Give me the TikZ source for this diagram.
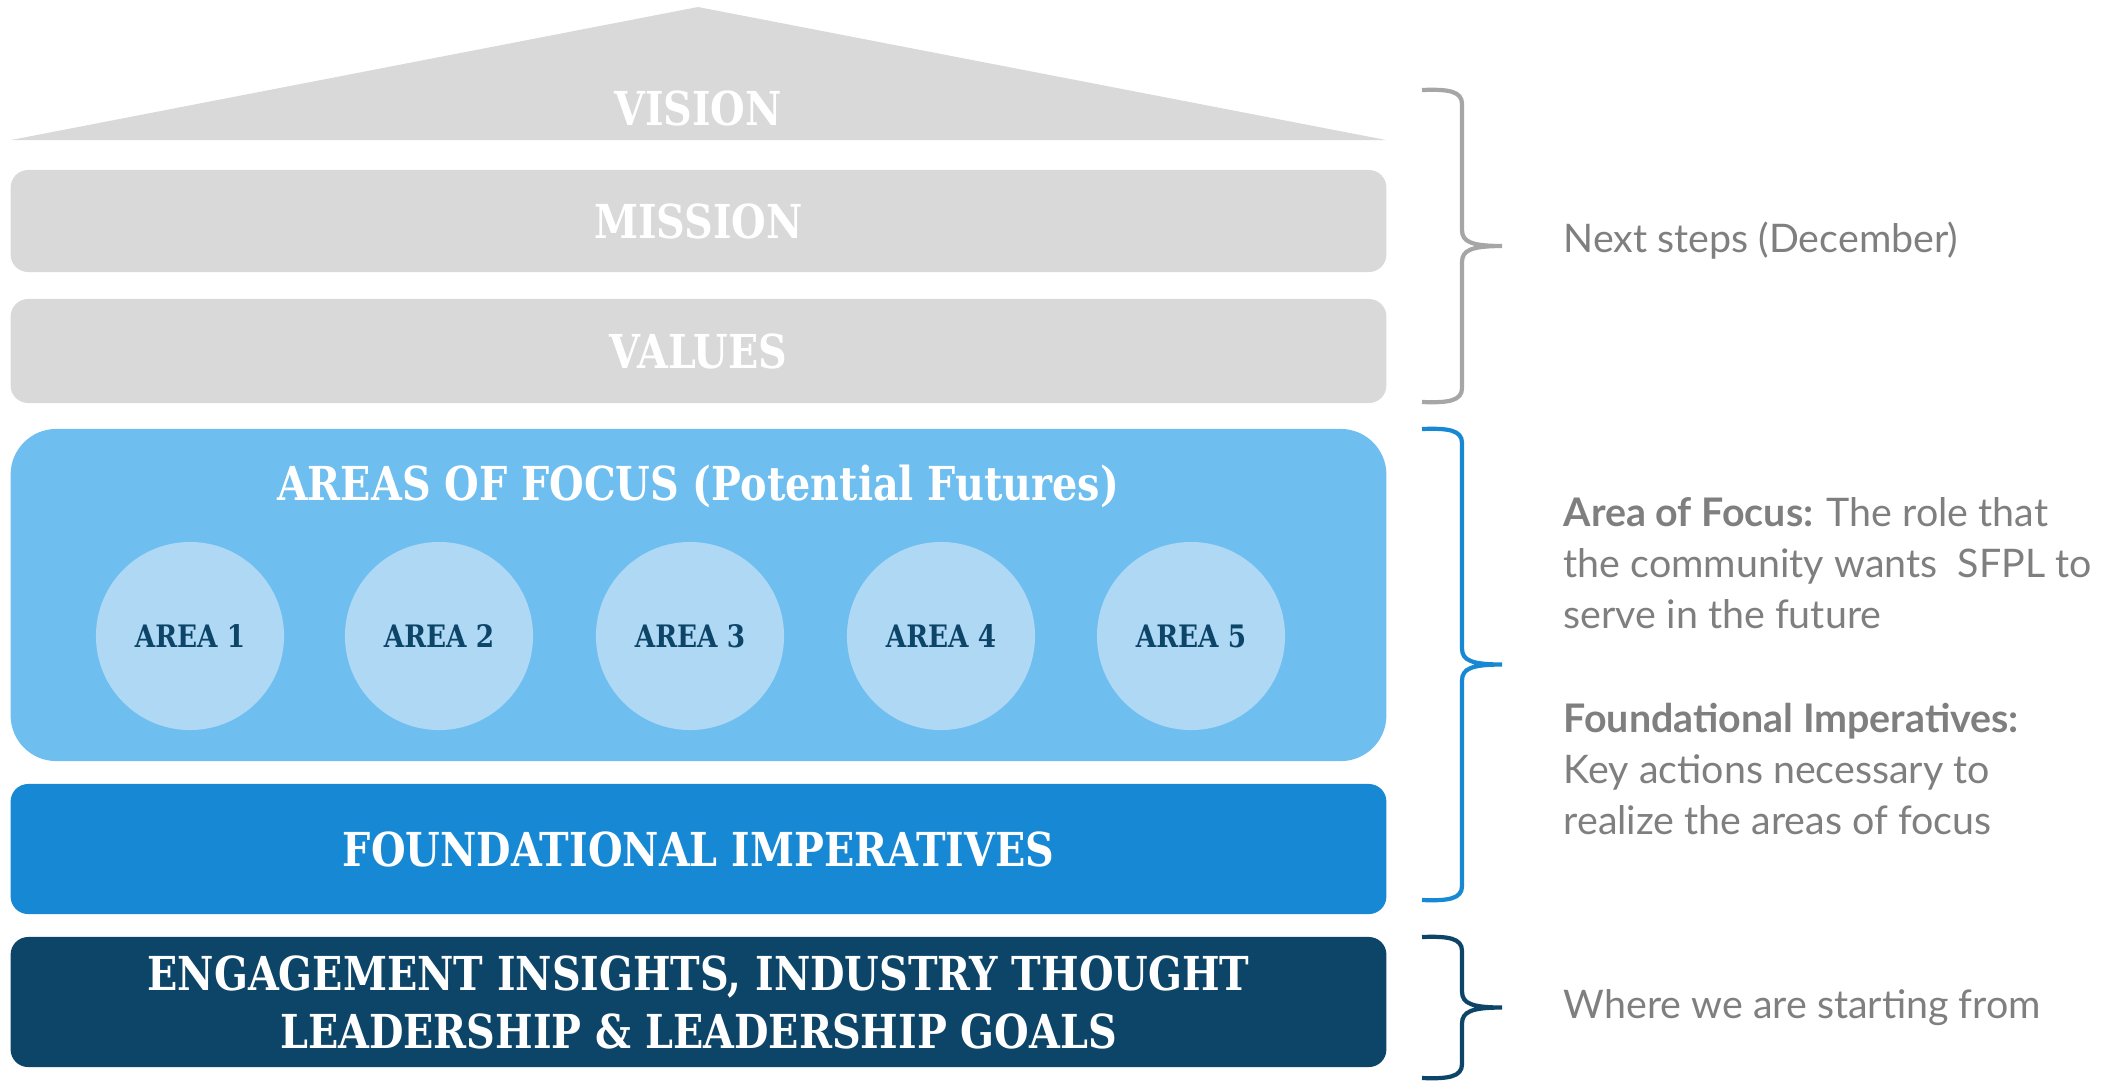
\documentclass[tikz,border=0pt]{standalone}
\usepackage{fontspec}
\setmainfont{Lato}
\newfontfamily\slabfont[FakeStretch=0.85]{DejaVu Serif}
\usetikzlibrary{positioning}
\definecolor{roofgray}{HTML}{D9D9D9}
\definecolor{bracegray}{HTML}{A6A6A6}
\definecolor{notegray}{HTML}{7F7F7F}
\definecolor{focusblue}{HTML}{6FBEF0}
\definecolor{arealight}{HTML}{AED8F4}
\definecolor{baseblue}{HTML}{1789D4}
\definecolor{navy}{HTML}{0D4569}
\tikzset{
    layer/.style = {rectangle, rounded corners=5pt,
        minimum width=13.75cm, text=white, align=center,
        font=\slabfont\bfseries\fontsize{13.3}{16.5}\selectfont},
    title/.style = {text=white,
        font=\slabfont\bfseries\fontsize{13.3}{16.5}\selectfont},
    area/.style = {circle, fill=arealight, minimum size=1.88cm,
        text=navy, font=\slabfont\bfseries\fontsize{8.8}{10}\selectfont},
    note/.style = {anchor=west, align=left, text=notegray, inner sep=0pt,
        font=\fontsize{11.2}{14.4}\selectfont},
    bracepen/.style = {line width=1.2pt}
}
% right brace: colour, top, bottom (picture units)
\newcommand{\sidebrace}[3]{%
  \pgfmathsetmacro{\bmid}{(#2+#3)/2}
  \draw[bracepen, #1] (1422,#2) .. controls (1448,#2-1) and (1462,#2+1) .. (1462,#2+14)
     -- (1462,\bmid-16) .. controls (1462,\bmid-4) and (1472,\bmid) .. (1502,\bmid)
     .. controls (1472,\bmid) and (1462,\bmid+4) .. (1462,\bmid+16)
     -- (1462,#3-14) .. controls (1462,#3-1) and (1448,#3+1) .. (1422,#3);}

\begin{document}
\begin{tikzpicture}[x=0.01cm, y=-0.01cm]
    \useasboundingbox (0,0) rectangle (2113,1081);

    % roof
    \coordinate (eaveL) at (11,140);
    \coordinate (ridge) at (698,7);
    \coordinate (eaveR) at (1386,140);
    \fill[roofgray] (eaveL) -- (ridge) -- (eaveR) -- cycle;
    \node[title] (vision) at (698,108) {VISION};

    % grey layers
    \node[layer, fill=roofgray, minimum height=1.02cm] (mission) at (698.5,221) {MISSION};
    \node[layer, fill=roofgray, minimum height=1.04cm] (values) at (698.5,351) {VALUES};

    % areas of focus
    \node[layer, fill=focusblue, rounded corners=13pt, minimum height=3.32cm] (focus) at (698.5,595) {};
    \node[title] (focustitle) at (698,486) {AREAS OF FOCUS (Potential Futures)};
    \foreach \i/\x in {1/190,2/439,3/690,4/941,5/1191}
        \node[area] (area\i) at (\x,636) {AREA \i};

    % base layers
    \node[layer, fill=baseblue, minimum height=1.3cm] (imperatives) at (698.5,849) {FOUNDATIONAL IMPERATIVES};
    \node[layer, fill=navy, minimum height=1.3cm] (insights) at (698.5,1002)
        {ENGAGEMENT INSIGHTS, INDUSTRY THOUGHT\\LEADERSHIP \& LEADERSHIP GOALS};

    % braces
    \sidebrace{bracegray}{90}{402}
    \sidebrace{baseblue}{429}{900}
    \sidebrace{navy}{937}{1078}

    % notes
    \node[note] (nextnote) at (1563,241) {Next steps (December)};
    \node[note] (focusnote) at (1563,563)
        {\textbf{Area of Focus:} The role that\\the community wants\ \ SFPL to\\serve in the future};
    \node[note] (impnote) at (1563,769)
        {\textbf{Foundational Imperatives:}\\Key actions necessary to\\realize the areas of focus};
    \node[note] (startnote) at (1563,1008) {Where we are starting from};
\end{tikzpicture}
\end{document}
